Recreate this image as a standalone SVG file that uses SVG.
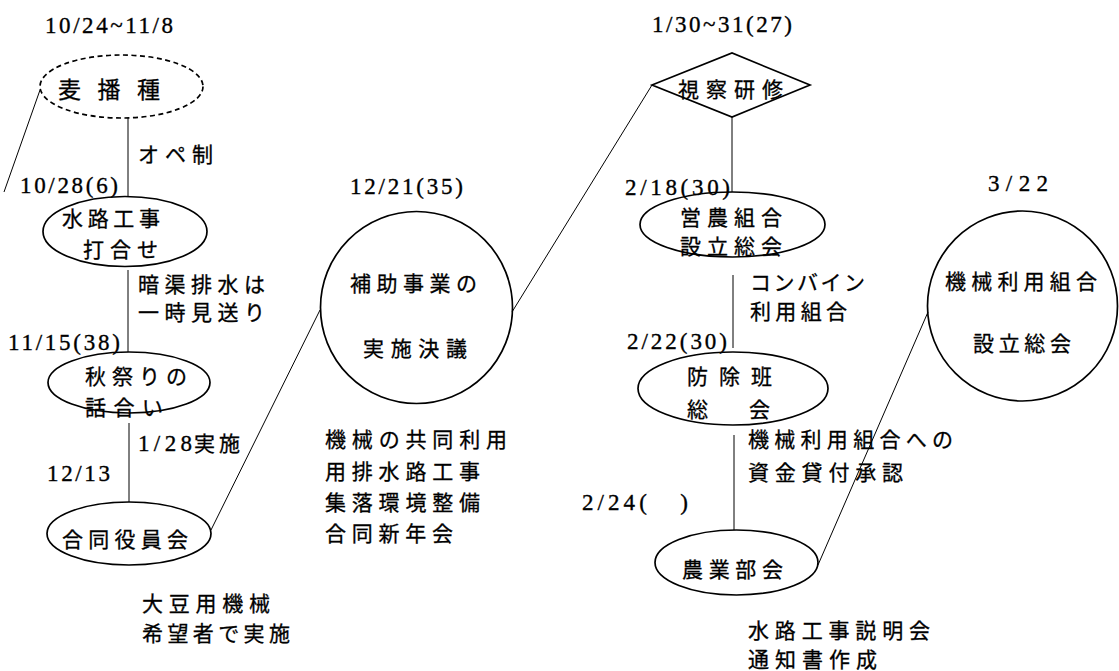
<svg xmlns="http://www.w3.org/2000/svg" width="1119" height="671" viewBox="0 0 1119 671">
<style>
.bg{fill:#fff}
.shape{fill:none;stroke:#000;stroke-width:1.7}
.dash{fill:none;stroke:#000;stroke-width:1.7;stroke-dasharray:5 3.5}
.conn{fill:none;stroke:#000;stroke-width:1}
.jp{font-family:"Noto Sans CJK JP","Noto Sans",sans-serif;font-size:21px;fill:#000;stroke:#000;stroke-width:0.3}
.big{font-size:23px}
.num{font-family:"Liberation Serif","DejaVu Serif",serif;font-size:23px;fill:#000;stroke:#000;stroke-width:0.35}
</style>
<rect class="bg" x="0" y="0" width="1119" height="671"/>
<g id="connectors">
<line class="conn" x1="128" y1="118" x2="128" y2="197"/>
<line class="conn" x1="40" y1="90" x2="4" y2="192"/>
<line class="conn" x1="128" y1="270" x2="128" y2="352"/>
<line class="conn" x1="129" y1="423" x2="129" y2="502"/>
<line class="conn" x1="211" y1="530" x2="320" y2="310"/>
<line class="conn" x1="512" y1="312" x2="652" y2="85"/>
<line class="conn" x1="732" y1="117" x2="732" y2="192"/>
<line class="conn" x1="733" y1="275" x2="733" y2="348"/>
<line class="conn" x1="734" y1="435" x2="734" y2="530"/>
<line class="conn" x1="818" y1="565" x2="928" y2="312"/>
</g>
<g id="n-mugi">
<text class="num" x="45" y="33" textLength="128" lengthAdjust="spacing">10/24~11/8</text>
<ellipse class="dash" cx="121.5" cy="86.5" rx="81.5" ry="31.5"/>
<text class="jp big" x="58" y="98" textLength="102" lengthAdjust="spacing">麦播種</text>
</g>
<g id="lbl-ope">
<text class="jp" x="138" y="162" textLength="75" lengthAdjust="spacing">オペ制</text>
</g>
<g id="n-suiro">
<text class="num" x="20" y="193" textLength="98" lengthAdjust="spacing">10/28(6)</text>
<ellipse class="shape" cx="125" cy="231.5" rx="82" ry="35"/>
<text class="jp" x="62" y="226" textLength="98" lengthAdjust="spacing">水路工事</text>
<text class="jp" x="83" y="257" textLength="75" lengthAdjust="spacing">打合せ</text>
</g>
<g id="lbl-ankyo">
<text class="jp" x="138" y="292" textLength="127" lengthAdjust="spacing">暗渠排水は</text>
<text class="jp" x="138" y="320" textLength="127" lengthAdjust="spacing">一時見送り</text>
</g>
<g id="n-akimatsuri">
<text class="num" x="8" y="350" textLength="112" lengthAdjust="spacing">11/15(38)</text>
<ellipse class="shape" cx="129" cy="382.5" rx="81" ry="30.5"/>
<text class="jp" x="85" y="384" textLength="102" lengthAdjust="spacing">秋祭りの</text>
<text class="jp" x="85" y="415" textLength="78" lengthAdjust="spacing">話合い</text>
</g>
<g id="lbl-128">
<text class="num" x="138" y="451" textLength="54" lengthAdjust="spacing">1/28</text>
<text class="jp" x="194" y="451" textLength="46" lengthAdjust="spacing">実施</text>
</g>
<g id="n-godo">
<text class="num" x="47" y="481" textLength="63" lengthAdjust="spacing">12/13</text>
<ellipse class="shape" cx="129" cy="533.5" rx="82" ry="31.5"/>
<text class="jp" x="62" y="547" textLength="126" lengthAdjust="spacing">合同役員会</text>
<text class="jp" x="142" y="611" textLength="128" lengthAdjust="spacing">大豆用機械</text>
<text class="jp" x="142" y="641" textLength="148" lengthAdjust="spacing">希望者で実施</text>
</g>
<g id="n-hojo">
<text class="num" x="350" y="194" textLength="113" lengthAdjust="spacing">12/21(35)</text>
<circle class="shape" cx="416.5" cy="307.5" r="96"/>
<text class="jp" x="350" y="291" textLength="127" lengthAdjust="spacing">補助事業の</text>
<text class="jp" x="363" y="356" textLength="104" lengthAdjust="spacing">実施決議</text>
<text class="jp" x="325" y="447" textLength="182" lengthAdjust="spacing">機械の共同利用</text>
<text class="jp" x="325" y="479" textLength="155" lengthAdjust="spacing">用排水路工事</text>
<text class="jp" x="325" y="510" textLength="155" lengthAdjust="spacing">集落環境整備</text>
<text class="jp" x="325" y="541" textLength="128" lengthAdjust="spacing">合同新年会</text>
</g>
<g id="n-shisatsu">
<text class="num" x="652" y="32" textLength="140" lengthAdjust="spacing">1/30~31(27)</text>
<polygon class="shape" points="652,85 732,53 810,85 732,117"/>
<text class="jp" x="678" y="97" textLength="105" lengthAdjust="spacing">視察研修</text>
</g>
<g id="n-einou">
<text class="num" x="625" y="195" textLength="105" lengthAdjust="spacing">2/18(30)</text>
<ellipse class="shape" cx="732.5" cy="224.5" rx="92.5" ry="32.5"/>
<text class="jp" x="680" y="225" textLength="102" lengthAdjust="spacing">営農組合</text>
<text class="jp" x="680" y="254" textLength="102" lengthAdjust="spacing">設立総会</text>
</g>
<g id="lbl-combine">
<text class="jp" x="750" y="290" textLength="115" lengthAdjust="spacing">コンバイン</text>
<text class="jp" x="750" y="319" textLength="97" lengthAdjust="spacing">利用組合</text>
</g>
<g id="n-bojo">
<text class="num" x="627" y="349" textLength="100" lengthAdjust="spacing">2/22(30)</text>
<ellipse class="shape" cx="733" cy="388.5" rx="95" ry="36.5"/>
<text class="jp" x="687" y="384" textLength="85" lengthAdjust="spacing">防除班</text>
<text class="jp" x="687" y="417" textLength="83" lengthAdjust="spacing">総　会</text>
</g>
<g id="lbl-shikin">
<text class="jp" x="748" y="447" textLength="205" lengthAdjust="spacing">機械利用組合への</text>
<text class="jp" x="748" y="480" textLength="155" lengthAdjust="spacing">資金貸付承認</text>
</g>
<g id="n-nogyo">
<text class="num" x="582" y="510" textLength="106" lengthAdjust="spacing" xml:space="preserve">2/24(   )</text>
<ellipse class="shape" cx="736.5" cy="562.5" rx="81.5" ry="32.5"/>
<text class="jp" x="682" y="577" textLength="101" lengthAdjust="spacing">農業部会</text>
<text class="jp" x="748" y="638" textLength="182" lengthAdjust="spacing">水路工事説明会</text>
<text class="jp" x="748" y="667" textLength="129" lengthAdjust="spacing">通知書作成</text>
</g>
<g id="n-kikai">
<text class="num" x="988" y="191" textLength="60" lengthAdjust="spacing">3/22</text>
<circle class="shape" cx="1022.5" cy="306" r="95"/>
<text class="jp" x="945" y="289" textLength="152" lengthAdjust="spacing">機械利用組合</text>
<text class="jp" x="973" y="351" textLength="98" lengthAdjust="spacing">設立総会</text>
</g>
</svg>
